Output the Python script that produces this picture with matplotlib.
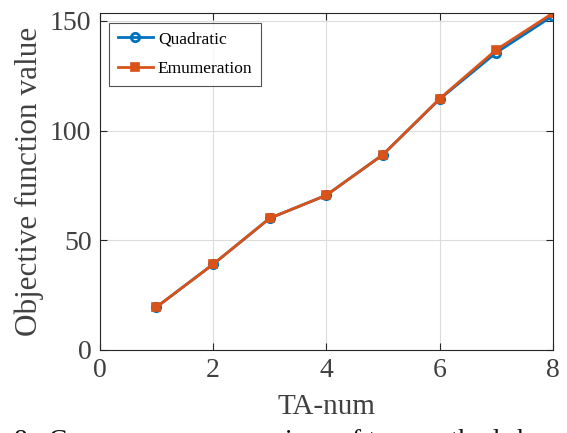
# Objective function value vs number of TAs, quadratic vs enumeration

import matplotlib
matplotlib.use('Agg')
import matplotlib.pyplot as plt

ta_num = [1, 2, 3, 4, 5, 6, 7, 8]
quadratic = [19.5, 39.0, 60.0, 70.5, 89.0, 114.3, 135.5, 152.3]
emumeration = [19.5, 39.0, 60.0, 70.5, 89.0, 114.5, 136.8, 153.5]

plt.rcParams['font.family'] = ['Liberation Serif', 'DejaVu Serif']

fig = plt.figure(figsize=(5.67, 4.33), dpi=100)
ax = fig.add_axes([0.176, 0.192, 0.799, 0.778])

ax.plot(ta_num, quadratic, color='#0072BD', lw=2, marker='o',
        ms=6, mfc='none', mew=2, label='Quadratic')
ax.plot(ta_num, emumeration, color='#D95319', lw=2, marker='s',
        ms=6, mfc='#D95319', mew=1.2, label='Emumeration')

ax.set_xlim(0, 8)
ax.set_ylim(0, 153.6)
ax.set_xticks([0, 2, 4, 6, 8])
ax.set_yticks([0, 50, 100, 150])
ax.grid(True, color='#dcdcdc', lw=0.8)
ax.set_axisbelow(True)

ax.tick_params(direction='in', top=True, right=True, length=5,
               labelsize=20, colors='#262626', labelcolor='#404040', pad=6)
for s in ax.spines.values():
    s.set_color('#262626')
    s.set_linewidth(0.8)

ax.set_xlabel('TA-num', fontsize=21, color='#404040', labelpad=8)
ax.set_ylabel('Objective function value', fontsize=22.5, color='#404040', labelpad=4)

leg = ax.legend(loc='upper left', fontsize=12.5, frameon=True, fancybox=False,
                edgecolor='#262626', handlelength=2.0, borderaxespad=0.55,
                handletextpad=0.3, labelspacing=0.8, borderpad=0.5)
leg.get_frame().set_linewidth(0.8)

# caption line of the figure, cut off at the bottom edge
fig.text(14 / 567, 4 / 433, '8.  Convergence comparison of two methods based',
         fontsize=20, color='#111111', va='top', ha='left')

fig.savefig('out.png', dpi=100)
